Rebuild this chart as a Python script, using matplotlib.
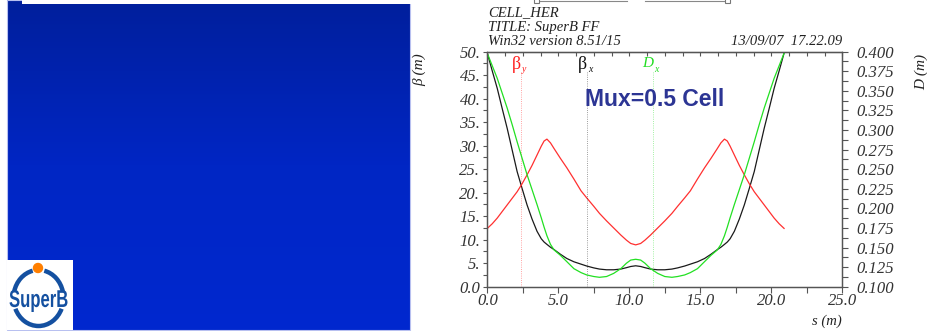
import numpy as np
import matplotlib
matplotlib.use('Agg')
import matplotlib.pyplot as plt
from matplotlib.patches import Rectangle, Arc, Circle, PathPatch
from matplotlib.colors import LinearSegmentedColormap
from matplotlib.ticker import MultipleLocator, FuncFormatter
from matplotlib.textpath import TextPath
from matplotlib.font_manager import FontProperties
from matplotlib.transforms import Affine2D

# optics along one cell
s = [0, 0.35, 0.7, 1.05, 1.4, 1.75, 2.1, 2.45, 2.8, 3.15, 3.5, 3.8, 4.0, 4.2, 4.45, 4.7,
     5.15, 5.6, 6.1, 6.6, 7.0, 7.5, 7.9, 8.4, 8.9, 9.4, 9.8, 10.1, 10.45,
     10.8, 11.1, 11.5, 12.0, 12.5, 13.0, 13.4, 13.9, 14.3, 14.8, 15.3, 15.75, 16.2, 16.45,
     16.7, 16.9, 17.1, 17.4, 17.75, 18.1, 18.45, 18.8, 19.15, 19.5, 19.85, 20.2, 20.55, 20.9]
beta_x = [49.7, 45.9, 42.2, 37.9, 33.7, 29.1, 24.5, 20.9, 17.4, 14.4, 11.8, 10.2, 9.5, 9.0, 8.4, 7.9,
          6.9, 6.0, 5.3, 4.8, 4.4, 4.0, 3.75, 3.6, 3.6, 3.75, 4.05, 4.3, 4.45,
          4.3, 4.05, 3.75, 3.6, 3.6, 3.75, 4.0, 4.4, 4.8, 5.3, 6.0, 6.9, 7.9, 8.4,
          9.0, 9.5, 10.2, 11.8, 14.4, 17.4, 20.9, 24.5, 29.1, 33.7, 37.9, 42.2, 45.9, 49.7]
beta_y = [12.4, 13.4, 14.6, 16.0, 17.4, 18.8, 20.2, 21.9, 23.8, 25.8, 28.0, 29.9, 31.0, 31.4, 30.6, 29.4,
          27.3, 25.3, 22.9, 20.4, 18.9, 17.1, 15.6, 14.0, 12.5, 11.0, 9.9, 9.2, 8.9,
          9.2, 9.9, 11.0, 12.5, 14.0, 15.6, 17.1, 18.9, 20.4, 22.9, 25.3, 27.3, 29.4, 30.6,
          31.4, 31.0, 29.9, 28.0, 25.8, 23.8, 21.9, 20.2, 18.8, 17.4, 16.0, 14.6, 13.4, 12.4]
disp_x = [0.398, 0.382, 0.366, 0.347, 0.328, 0.307, 0.285, 0.264, 0.243, 0.224, 0.205, 0.188, 0.176, 0.165, 0.154, 0.147,
          0.140, 0.132, 0.123, 0.118, 0.115, 0.113, 0.112, 0.113, 0.117, 0.123, 0.130, 0.134, 0.135,
          0.134, 0.130, 0.123, 0.117, 0.113, 0.112, 0.113, 0.115, 0.118, 0.123, 0.132, 0.140, 0.147, 0.154,
          0.165, 0.176, 0.188, 0.205, 0.224, 0.243, 0.264, 0.285, 0.307, 0.328, 0.347, 0.366, 0.382, 0.398]

marker_s = [2.35, 7.03, 11.67]
marker_names = [('β', 'y'), ('β', 'x'), ('D', 'x')]
marker_colors = ['#ff2020', '#111111', '#22dd22']

header = ['CELL_HER', 'TITLE: SuperB FF', 'Win32 version 8.51/15']
stamp = '13/09/07  17.22.09'

plt.rcParams['font.family'] = ['Liberation Serif', 'DejaVu Serif']
plt.rcParams['font.style'] = 'italic'

W, H = 928, 331
fig = plt.figure(figsize=(W / 100, H / 100), dpi=100)

# slide background in pixel coordinates
bg = fig.add_axes([0, 0, 1, 1])
bg.set_xlim(0, W)
bg.set_ylim(H, 0)
bg.axis('off')

cmap = LinearSegmentedColormap.from_list('slide', ['#001f9c', '#0026c4', '#0028cf'])
grad = np.linspace(0, 1, 256).reshape(-1, 1)
bg.imshow(grad, extent=(7, 410, 330, 0), cmap=cmap, aspect='auto', zorder=1)
bg.add_patch(Rectangle((7, 0), 403, 330, fill=False, ec='#b8c0f0', lw=0.8, zorder=2))
bg.add_patch(Rectangle((22, -1), 390, 5, fc='white', ec='none', zorder=3))

# SuperB logo
bg.add_patch(Rectangle((7, 260), 66, 70, fc='white', ec='none', zorder=3))
logo_blue = '#1450a0'
bg.add_patch(Arc((38.5, 298), 50, 56, theta1=195, theta2=258, color=logo_blue, lw=3.2, zorder=4))
bg.add_patch(Arc((38.5, 298), 50, 56, theta1=282, theta2=345, color=logo_blue, lw=3.2, zorder=4))
bg.add_patch(Arc((38.5, 298), 50, 56, theta1=25, theta2=155, color=logo_blue, lw=3.2, zorder=4))
bg.add_patch(Circle((38, 268), 4.5, color='#ff7f00', zorder=5))
tp = TextPath((0, 0), 'SuperB', size=20,
              prop=FontProperties(family='Liberation Sans', weight='bold', style='normal'))
bb = tp.get_extents()
tr = Affine2D().translate(-bb.x0, -bb.y0).scale(58 / bb.width, -22 / bb.height).translate(9.5, 312)
bg.add_patch(PathPatch(tr.transform_path(tp), fc=logo_blue, ec='none', zorder=5))

# element bar at the top
bg.plot([540, 627], [1.2, 1.2], color='#888888', lw=0.8)
bg.plot([645, 724], [1.2, 1.2], color='#888888', lw=0.8)
for xs in (537, 728):
    bg.add_patch(Rectangle((xs - 2.5, -2), 5, 5, fill=False, ec='#777777', lw=0.8))

for i, line in enumerate(header):
    bg.text(488, 12.5 + 14.5 * i, line, ha='left', va='center', fontsize=10.5, color='#222222')
bg.text(842, 41.5, stamp, ha='right', va='center', fontsize=10.5, color='#222222')

bg.text(420, 70, 'β (m)', rotation=90, ha='center', va='center', fontsize=11, color='#222222')
bg.text(921, 72, 'D (m)', rotation=90, ha='center', va='center', fontsize=11, color='#222222')
bg.text(842, 321, 's (m)', ha='right', va='center', fontsize=10.5, color='#222222')

# the optics plot
x0, x1, y0, y1 = 487.3, 842.3, 51.7, 286.7
ax = fig.add_axes([x0 / W, 1 - y1 / H, (x1 - x0) / W, (y1 - y0) / H])
ax.set_xlim(0, 25)
ax.set_ylim(0, 50)
ax2 = ax.twinx()
ax2.set_ylim(0.1, 0.4)

ax.plot(s, beta_x, color='#1a1a1a', lw=0.9)
ax.plot(s, beta_y, color='#ff3030', lw=0.9)
ax2.plot(s, disp_x, color='#22e022', lw=0.9)

for xs, (main, sub), c in zip(marker_s, marker_names, marker_colors):
    ax.plot([xs, xs], [0, 45.7], color=c, lw=0.6, ls=':', alpha=0.55)
    if main == 'β':
        ax.text(xs, 47.3, main, ha='right', va='center', fontsize=13, style='normal', color=c)
    else:
        ax.text(xs, 47.5, main, ha='right', va='center', fontsize=11, color=c)
    ax.text(xs + 0.05, 46.2, sub, ha='left', va='center', fontsize=7, color=c)

ax2.text(655, 99, 'Mux=0.5 Cell', ha='center', va='center', fontsize=16.5, fontweight='bold',
         style='normal', family='Liberation Sans', color='#2c3594', transform=bg.transData)

spine_c = '#555555'
for a in (ax, ax2):
    for sp in a.spines.values():
        sp.set_color(spine_c)
        sp.set_linewidth(0.9)

ax.xaxis.set_major_locator(MultipleLocator(5))
ax.xaxis.set_minor_locator(MultipleLocator(2.5))
ax.xaxis.set_major_formatter(FuncFormatter(lambda v, _: f'{v:.1f}'))
ax.yaxis.set_major_locator(MultipleLocator(5))
ax.yaxis.set_minor_locator(MultipleLocator(2.5))
ax.yaxis.set_major_formatter(FuncFormatter(lambda v, _: '0.0' if v == 0 else f'{v:.0f}.'))
ax2.yaxis.set_major_locator(MultipleLocator(0.025))
ax2.yaxis.set_minor_locator(MultipleLocator(0.0125))
ax2.yaxis.set_major_formatter(FuncFormatter(lambda v, _: f'{v:.3f}'))

ax.tick_params(axis='x', which='both', direction='out', length=4, width=0.8, color=spine_c,
               labelsize=12, labelcolor='#333333', pad=0.5)
ax.tick_params(axis='y', which='both', direction='out', length=3, width=0.8, color=spine_c,
               labelsize=12, labelcolor='#333333', pad=2)
ax2.tick_params(axis='y', which='both', direction='out', length=4, width=0.8, color=spine_c,
                labelsize=12, labelcolor='#333333', pad=6)

top = ax.secondary_xaxis('top')
top.set_xticks(np.arange(0, 25.01, 1.25))
top.tick_params(direction='in', length=3, width=0.8, color=spine_c, labeltop=False)
top.spines['top'].set_color(spine_c)

fig.savefig('out.png', dpi=100)
